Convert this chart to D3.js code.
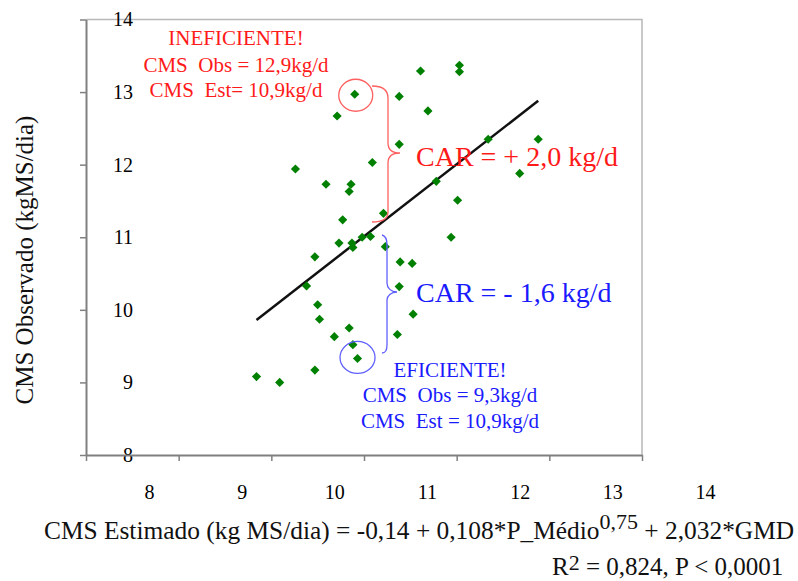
<!DOCTYPE html>
<html>
<head>
<meta charset="utf-8">
<script src="https://cdn.jsdelivr.net/npm/d3@7"></script>
<style>
  body { margin: 0; background: #fff; }
</style>
</head>
<body>
<script>
const width = 798, height = 581;
const serif = '"Liberation Serif"';

// CMS estimado (x) and CMS observado (y), kg MS/dia
const estimado = [10.90, 10.71, 11.09, 10.26, 10.59, 10.86, 10.84, 11.21, 10.77, 11.61,
  12.03, 12.03, 11.38, 11.69, 11.38, 12.34, 12.88, 12.68, 11.78, 12.01,
  10.73, 10.47, 10.87, 10.88, 10.98, 11.07, 11.23, 10.38, 10.50, 10.52,
  10.68, 10.84, 10.88, 10.93, 10.47, 9.84, 10.09, 11.94, 11.39, 11.52,
  11.38, 11.53, 11.36];
const observado = [12.97, 12.67, 12.03, 11.94, 11.73, 11.73, 11.63, 11.33, 11.24, 13.29,
  13.37, 13.28, 12.94, 12.74, 12.28, 12.35, 12.35, 11.88, 11.77, 11.51,
  10.92, 10.73, 10.92, 10.86, 11.00, 11.01, 10.87, 10.33, 10.07, 9.87,
  9.63, 9.75, 9.52, 9.33, 9.17, 9.08, 9.00, 11.00, 10.66, 10.64,
  10.32, 9.94, 9.66];

// trend line end points
const lineX = [9.84, 12.88];
const lineY = [9.86, 12.88];

const xTicks = [8, 9, 10, 11, 12, 13, 14];
const yTicks = [8, 9, 10, 11, 12, 13, 14];

const ineficiente = 0;  // index of the circled red point
const eficiente = 33;   // index of the circled blue point

const x = d3.scaleLinear().domain([8, 14]).range([86, 642]);
const y = d3.scaleLinear().domain([8, 14]).range([455, 19.5]);

const svg = d3.select("body").append("svg")
    .attr("width", width)
    .attr("height", height);

// plot frame (top and right)
svg.append("path")
    .attr("d", `M${x(8)},${y(14)}H${x(14)}V${y(8)}`)
    .attr("fill", "none")
    .attr("stroke", "#b8b8b8")
    .attr("stroke-width", 1.5);

// y axis
const yAxis = svg.append("g")
    .attr("transform", `translate(${x(8)},0)`)
    .call(d3.axisLeft(y).tickValues(yTicks).tickFormat(d3.format("d")).tickSize(6).tickSizeOuter(0));
yAxis.select(".domain").attr("stroke", "#808080").attr("stroke-width", 2);
yAxis.selectAll(".tick line").attr("stroke", "#808080").attr("stroke-width", 1.5);
yAxis.selectAll(".tick text")
    .attr("x", 47)
    .attr("font-size", 20)
    .attr("fill", "#000");

// x axis
const xAxis = svg.append("g")
    .attr("transform", `translate(0,${y(8)})`)
    .call(d3.axisBottom(x).tickValues(xTicks).tickFormat(d3.format("d")).tickSize(6).tickSizeOuter(0));
xAxis.select(".domain").attr("stroke", "#808080").attr("stroke-width", 2);
xAxis.selectAll(".tick line").attr("stroke", "#808080").attr("stroke-width", 1.5);
xAxis.selectAll(".tick text")
    .attr("x", 63)
    .attr("y", 30)
    .attr("font-size", 20)
    .attr("fill", "#000");

// trend line
svg.append("line")
    .attr("x1", x(lineX[0])).attr("y1", y(lineY[0]))
    .attr("x2", x(lineX[1])).attr("y2", y(lineY[1]))
    .attr("stroke", "#111")
    .attr("stroke-width", 2.5);

// points
const diamond = d3.symbol().type(d3.symbolSquare).size(42);
svg.append("g")
  .selectAll("path")
  .data(estimado.map((d, i) => [d, observado[i]]))
  .join("path")
    .attr("d", diamond)
    .attr("transform", d => `translate(${x(d[0])},${y(d[1])}) rotate(45)`)
    .attr("fill", "#008000");

// annotations
const red = "#ff1a1a", blue = "#1a1aff";

svg.append("ellipse")
    .attr("cx", x(estimado[ineficiente]) + 1)
    .attr("cy", y(observado[ineficiente]) + 1)
    .attr("rx", 17).attr("ry", 16)
    .attr("fill", "none").attr("stroke", "#ff6060").attr("stroke-width", 1.3);

svg.append("ellipse")
    .attr("cx", x(estimado[eficiente]))
    .attr("cy", y(observado[eficiente]) - 1)
    .attr("rx", 17.5).attr("ry", 16)
    .attr("fill", "none").attr("stroke", "#6060ff").attr("stroke-width", 1.3);

svg.append("path")
    .attr("d", "M372,86 C382,86 388,90 388,98 L388,143 C388,149 392,153 400,153 C392,153 388,157 388,163 L388,212 C388,219 382,222 372,222")
    .attr("fill", "none").attr("stroke", "#ff6060").attr("stroke-width", 1.3);

svg.append("path")
    .attr("d", "M382,235 C386,236 387,239 387,245 L387,283 C387,288 391,292 397,292 C391,292 387,296 387,300 L387,345 C387,350 385,353 382,353")
    .attr("fill", "none").attr("stroke", "#6060ff").attr("stroke-width", 1.3);

svg.append("text")
    .attr("x", 416).attr("y", 166)
    .attr("font-size", 28)
    .attr("fill", red)
    .text("CAR = + 2,0 kg/d");

svg.append("text")
    .attr("x", 416).attr("y", 302)
    .attr("font-size", 28)
    .attr("fill", blue)
    .text("CAR = - 1,6 kg/d");

const redNote = ["INEFICIENTE!", "CMS  Obs = 12,9kg/d", "CMS  Est= 10,9kg/d"];
svg.append("g").selectAll("text")
  .data(redNote)
  .join("text")
    .attr("x", 236)
    .attr("y", (d, i) => [45, 72, 97][i])
    .attr("text-anchor", "middle")
    .attr("font-size", 21)
    .attr("fill", red)
    .style("white-space", "pre")
    .text(d => d);

const blueNote = ["EFICIENTE!", "CMS  Obs = 9,3kg/d", "CMS  Est = 10,9kg/d"];
svg.append("g").selectAll("text")
  .data(blueNote)
  .join("text")
    .attr("x", 450)
    .attr("y", (d, i) => [377, 402, 428][i])
    .attr("text-anchor", "middle")
    .attr("font-size", 21)
    .attr("fill", blue)
    .style("white-space", "pre")
    .text(d => d);

// axis titles
svg.append("text")
    .attr("transform", "translate(33,260) rotate(-90)")
    .attr("text-anchor", "middle")
    .attr("font-size", 25)
    .attr("fill", "#111")
    .text("CMS Observado (kgMS/dia)");

const eq = svg.append("text")
    .attr("x", 44).attr("y", 539)
    .attr("font-size", 25.4)
    .attr("fill", "#111");
eq.append("tspan").text("CMS Estimado (kg MS/dia) = -0,14 + 0,108*P_Médio");
eq.append("tspan").attr("dy", -10).attr("font-size", 22).text("0,75");
eq.append("tspan").attr("dy", 10).text(" + 2,032*GMD");

const r2 = svg.append("text")
    .attr("x", 552).attr("y", 575)
    .attr("font-size", 25)
    .attr("fill", "#111");
r2.append("tspan").text("R");
r2.append("tspan").attr("dy", -5).attr("font-size", 22).text("2");
r2.append("tspan").attr("dy", 5).text(" = 0,824, P < 0,0001");

svg.selectAll("text").style("font-family", serif);
</script>
</body>
</html>
